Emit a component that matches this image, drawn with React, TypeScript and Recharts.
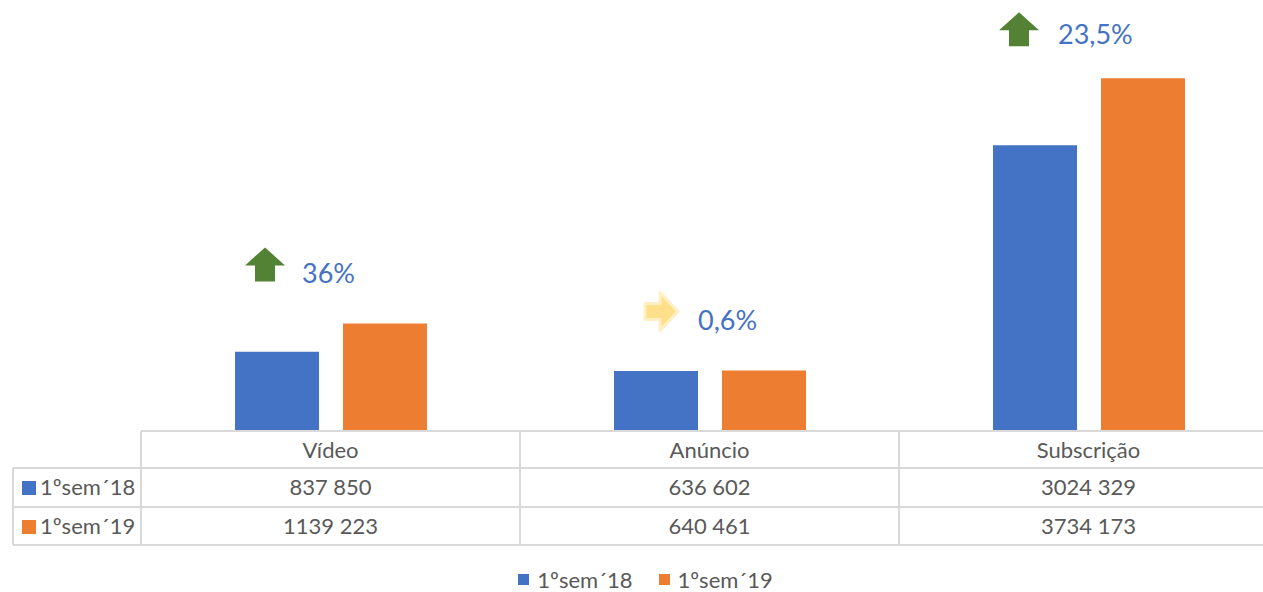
import { BarChart, Bar, XAxis, YAxis, LabelList } from 'recharts';

const categories = ['Vídeo', 'Anúncio', 'Subscrição'];
const sem18 = [837850, 636602, 3024329];
const sem19 = [1139223, 640461, 3734173];
const seriesNames = ['1ºsem´18', '1ºsem´19'];
const changeLabels = ['36%', '0,6%', '23,5%'];
const trends = ['up', 'flat', 'up'];

const BLUE = '#4472C4';
const ORANGE = '#ED7D31';
const GRID = '#D9D9D9';
const TEXT = '#595959';
const FONT = 'Lato, "Open Sans", sans-serif';

const CHART_W = 1290;
const MARGIN_L = 141;
const MARGIN_R = 12;
const COL_W = (CHART_W - MARGIN_L - MARGIN_R) / categories.length;
const TABLE_X = 13;

const data = categories.map((name, i) => ({ name, s18: sem18[i], s19: sem19[i] }));

const fmt = (v: number) => `${Math.floor(v / 1000)} ${String(v % 1000).padStart(3, '0')}`;

function TableTick(props: any) {
    const { x, y, payload } = props;
    const i = payload.index;
    const half = COL_W / 2;
    const left = x - half;
    const rows = [y + 37, y + 76, y + 114];
    const rowValues = [sem18[i], sem19[i]];
    return (
        <g fontFamily={FONT}>
            <line x1={left} y1={y} x2={left} y2={rows[2]} stroke={GRID} strokeWidth={2} />
            {rows.map((ry) => (
                <line key={ry} x1={left} y1={ry} x2={x + half} y2={ry} stroke={GRID} strokeWidth={2} />
            ))}
            <text x={x} y={y + 21} textAnchor="middle" dominantBaseline="middle" fontSize={22} fill={TEXT}>
                {payload.value}
            </text>
            {rowValues.map((v, r) => (
                <text key={r} x={x} y={rows[r] + 21} textAnchor="middle" dominantBaseline="middle" fontSize={22} fill={TEXT}>
                    {fmt(v)}
                </text>
            ))}
            {i === 0 && (
                <g>
                    <line x1={TABLE_X} y1={rows[0]} x2={TABLE_X} y2={rows[2]} stroke={GRID} strokeWidth={2} />
                    {rows.map((ry) => (
                        <line key={ry} x1={TABLE_X} y1={ry} x2={left} y2={ry} stroke={GRID} strokeWidth={2} />
                    ))}
                    {seriesNames.map((n, r) => (
                        <g key={n}>
                            <rect x={TABLE_X + 9} y={rows[r] + 13} width={14} height={14} fill={r === 0 ? BLUE : ORANGE} />
                            <text x={TABLE_X + 27} y={rows[r] + 21} dominantBaseline="middle" fontSize={22} fill={TEXT}>
                                {n}
                            </text>
                        </g>
                    ))}
                </g>
            )}
        </g>
    );
}

function ChangeLabel(props: any) {
    const { x, y, index } = props;
    const trend = trends[index];
    // label boxes in the original are placed by hand, so a small nudge per label
    const tx = x + (trend === 'flat' ? -24 : index === 2 ? -43 : -41);
    const ty = y - (index === 2 ? 41 : 47);
    const ax = tx - (index === 2 ? 39 : 37);
    const ay = ty - (index === 2 ? 8 : 12);
    return (
        <g>
            {trend === 'up' ? (
                <polygon
                    points={`${ax},${ay - 17} ${ax + 20},${ay + 1} ${ax + 10},${ay + 1} ${ax + 10},${ay + 17} ${ax - 10},${ay + 17} ${ax - 10},${ay + 1} ${ax - 20},${ay + 1}`}
                    fill="#548235"
                />
            ) : (
                <polygon
                    points={`${ax - 16},${ay - 8} ${ax - 1},${ay - 8} ${ax - 1},${ay - 19} ${ax + 17},${ay} ${ax - 1},${ay + 19} ${ax - 1},${ay + 8} ${ax - 16},${ay + 8}`}
                    fill="#FFE08A"
                    stroke="#FFF0C4"
                    strokeWidth={3}
                    strokeLinejoin="round"
                />
            )}
            <text x={tx} y={ty} dominantBaseline="middle" fontSize={27} fill={BLUE} fontFamily={FONT}>
                {changeLabels[index]}
            </text>
        </g>
    );
}

export default function App() {
    return (
        <div style={{ position: 'absolute', left: 0, top: 0, width: 1263, height: 592, overflow: 'hidden', background: '#fff' }}>
            <BarChart
                width={CHART_W}
                height={592}
                data={data}
                margin={{ top: 6, right: MARGIN_R, left: MARGIN_L, bottom: 0 }}
                barSize={84}
                barGap={24}
            >
                <YAxis hide width={0} domain={[0, 4500000]} />
                <XAxis
                    dataKey="name"
                    height={161}
                    axisLine={{ stroke: GRID, strokeWidth: 2 }}
                    tickLine={false}
                    tickSize={0}
                    tickMargin={0}
                    interval={0}
                    tick={<TableTick />}
                />
                <Bar dataKey="s18" fill={BLUE} isAnimationActive={false} />
                <Bar dataKey="s19" fill={ORANGE} isAnimationActive={false}>
                    <LabelList dataKey="s19" content={<ChangeLabel />} />
                </Bar>
            </BarChart>
            <div
                style={{
                    position: 'absolute',
                    top: 566,
                    left: 0,
                    width: 1263,
                    display: 'flex',
                    justifyContent: 'center',
                    gap: 26,
                    fontFamily: FONT,
                    fontSize: 22,
                    color: TEXT,
                    paddingLeft: 28,
                    boxSizing: 'border-box',
                }}
            >
                {seriesNames.map((n, r) => (
                    <div key={n} style={{ display: 'flex', alignItems: 'center' }}>
                        <span style={{ display: 'inline-block', width: 11, height: 11, background: r === 0 ? BLUE : ORANGE, marginRight: 8 }} />
                        {n}
                    </div>
                ))}
            </div>
        </div>
    );
}
